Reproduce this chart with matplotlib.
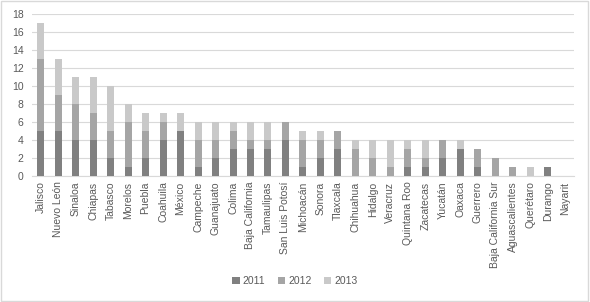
import numpy as np
import matplotlib.pyplot as plt
from matplotlib.patches import Rectangle

states = ['Jalisco', 'Nuevo León', 'Sinaloa', 'Chiapas', 'Tabasco', 'Morelos', 'Puebla',
          'Coahuila', 'México', 'Campeche', 'Guanajuato', 'Colima', 'Baja California',
          'Tamaulipas', 'San Luis Potosí', 'Michoacán', 'Sonora', 'Tlaxcala', 'Chihuahua',
          'Hidalgo', 'Veracruz', 'Quintana Roo', 'Zacatecas', 'Yucatán', 'Oaxaca',
          'Guerrero', 'Baja California Sur', 'Aguascalientes', 'Querétaro', 'Durango', 'Nayarit']
y2011 = np.array([5, 5, 4, 4, 2, 1, 2, 4, 5, 1, 2, 3, 3, 3, 4, 1, 2, 3, 0, 0, 0, 1, 1, 2, 3, 1, 0, 0, 0, 1, 0])
y2012 = np.array([8, 4, 4, 3, 3, 5, 3, 2, 0, 3, 2, 2, 1, 1, 2, 3, 2, 2, 3, 2, 1, 2, 1, 2, 0, 2, 2, 1, 0, 0, 0])
y2013 = np.array([4, 4, 3, 4, 5, 2, 2, 1, 2, 2, 2, 1, 2, 2, 0, 1, 1, 0, 1, 2, 3, 1, 2, 0, 1, 0, 0, 0, 1, 0, 0])
years = ['2011', '2012', '2013']
colors = ['#808080', '#a5a5a5', '#c9c9c9']

plt.rcParams['font.family'] = ['Liberation Sans', 'DejaVu Sans']
txt = '#595959'

fig = plt.figure(figsize=(5.9, 3.02), dpi=100)
ax = fig.add_axes([0.054, 0.417, 0.919, 0.536])

x = np.arange(len(states))
w = 0.4
ax.bar(x, y2011, w, color=colors[0], label=years[0], zorder=3)
ax.bar(x, y2012, w, bottom=y2011, color=colors[1], label=years[1], zorder=3)
ax.bar(x, y2013, w, bottom=y2011 + y2012, color=colors[2], label=years[2], zorder=3)

ax.set_xlim(-0.5, len(states) - 0.5)
ax.set_ylim(0, 18)
ax.set_yticks(range(0, 19, 2))
ax.yaxis.grid(True, color='#d9d9d9', linewidth=0.8, zorder=0)
ax.set_xticks(x)
ax.set_xticklabels(states, rotation=90, fontsize=7.5, color=txt)
ax.tick_params(axis='y', labelsize=7.5, labelcolor=txt, length=0, pad=6)
ax.tick_params(axis='x', length=0, pad=4)
for s in ['top', 'right', 'left']:
    ax.spines[s].set_visible(False)
ax.spines['bottom'].set_color('#d9d9d9')

fig.legend(loc='center', bbox_to_anchor=(0.5, 0.07), ncol=3, frameon=False,
           fontsize=7.5, labelcolor=txt, handlelength=0.7, handleheight=0.7,
           handletextpad=0.3, columnspacing=1.2)

fig.patches.append(Rectangle((0.002, 0.003), 0.995, 0.993, transform=fig.transFigure,
                             fill=False, edgecolor='#d9d9d9', linewidth=1))

fig.savefig('out.png', dpi=100)
